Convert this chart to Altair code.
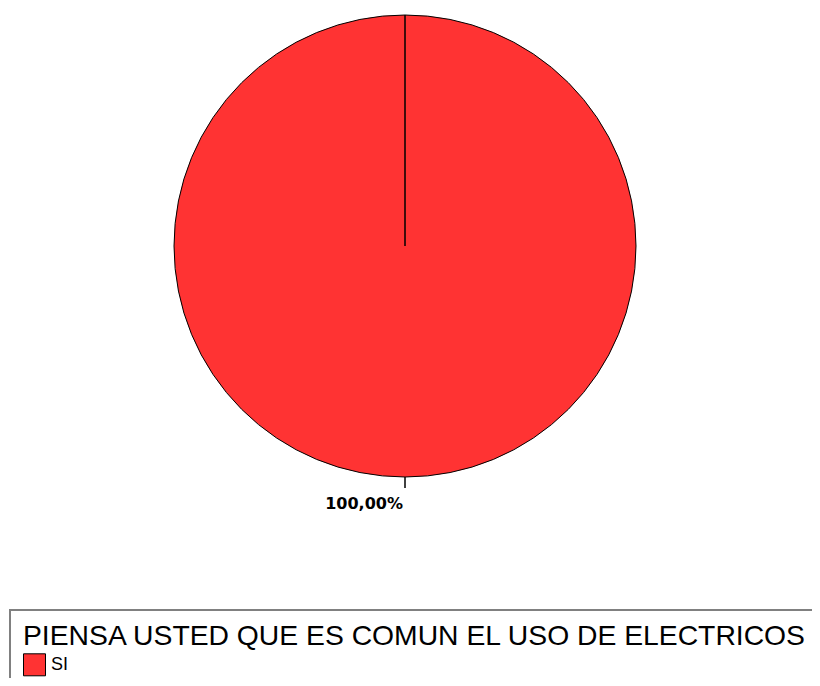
import altair as alt
import pandas as pd

categories = ["SI"]
values = [100]
colors = ["#FF3333"]
legend_title = "PIENSA USTED QUE ES COMUN EL USO DE ELECTRICOS"

total = sum(values)
labels = [f"{100 * v / total:.2f}".replace(".", ",") + "%" for v in values]
df = pd.DataFrame({"respuesta": categories, "valor": values, "etiqueta": labels})

CX, CY, R = 397, 238, 231

base = alt.Chart(df)

pie = base.mark_arc(stroke="black", strokeWidth=1, opacity=1).encode(
    theta=alt.Theta("valor:Q", stack=True),
    color=alt.Color(
        "respuesta:N",
        scale=alt.Scale(domain=categories, range=colors),
        legend=alt.Legend(
            title=legend_title,
            orient="none",
            legendX=2,
            legendY=602,
            direction="vertical",
            strokeColor="#808080",
            fillColor="white",
            padding=13,
            titleFont="Liberation Sans",
            titleFontSize=28.3,
            titleFontWeight="normal",
            titleColor="black",
            titleLimit=2000,
            titlePadding=2,
            symbolType="square",
            symbolSize=484,
            symbolStrokeColor="black",
            symbolStrokeWidth=1,
            symbolOpacity=1,
            labelFont="Liberation Sans",
            labelFontSize=18,
            labelColor="black",
            labelOffset=5,
            labelLimit=500,
        ),
    ),
    x=alt.value(CX),
    y=alt.value(CY),
    radius=alt.value(R),
)

radial = base.mark_rule(color="black", strokeWidth=1.5).encode(
    x=alt.value(CX), y=alt.value(CY - R), y2=alt.value(CY)
)

tick = base.mark_rule(color="black", strokeWidth=1.5).encode(
    x=alt.value(CX), y=alt.value(CY + R), y2=alt.value(CY + R + 11)
)

pct = base.mark_text(
    font="DejaVu Sans", fontSize=16, fontWeight="bold", color="black",
    align="right", baseline="alphabetic",
).encode(
    text="etiqueta:N", x=alt.value(CX - 2), y=alt.value(CY + R + 32)
)

chart = (
    alt.layer(pie, radial, tick, pct)
    .properties(width=804, height=670, padding=0, autosize=alt.AutoSizeParams(type="none"))
    .configure_view(stroke=None)
    .configure_legend(strokeWidth=2)
)

chart.save("out.html", embed_options={"renderer": "svg", "actions": False})
